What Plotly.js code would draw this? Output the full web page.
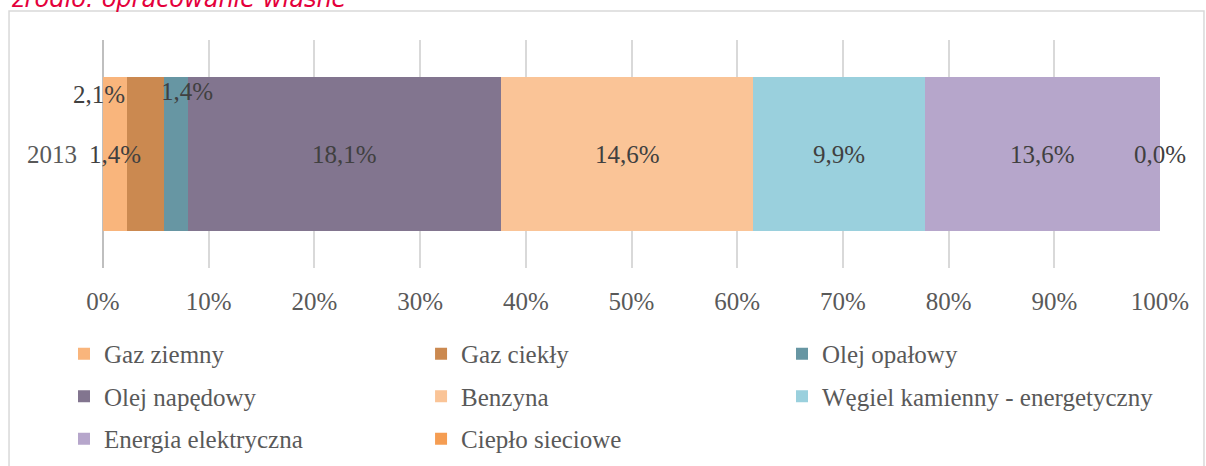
<!DOCTYPE html>
<html><head><meta charset="utf-8">
<script src="https://cdn.plot.ly/plotly-3.0.1.min.js"></script>
<style>html,body{margin:0;padding:0;background:#fff;}#chart{width:1206px;height:466px;}</style>
</head><body><div id="chart"></div>
<script>
const categories = ['2013'];
const seriesNames = ['Gaz ziemny', 'Gaz ciekły', 'Olej opałowy', 'Olej napędowy', 'Benzyna', 'Węgiel kamienny - energetyczny', 'Energia elektryczna', 'Ciepło sieciowe'];
const seriesValues = [1.4, 2.1, 1.4, 18.1, 14.6, 9.9, 13.6, 0.0];
const tickValues = [0, 10, 20, 30, 40, 50, 60, 70, 80, 90, 100];
const tickLabels = ['0%', '10%', '20%', '30%', '40%', '50%', '60%', '70%', '80%', '90%', '100%'];
const sourceText = 'źródło: opracowanie własne';

// styles
const colors = ['#F9B57C', '#CB8950', '#6796A3', '#82758F', '#FAC497', '#9AD0DD', '#B6A6CB', '#F59D52'];
const legendOf = ['legend', 'legend2', 'legend3', 'legend', 'legend2', 'legend3', 'legend', 'legend2'];
const labelShift = [[0, 0], [-46, 60], [11, 63], [0, 0], [0, 0], [0, 0], [0, 0], [0, 0]];

const serif = 'Liberation Serif, Times New Roman, serif';
const total = seriesValues.reduce((a, b) => a + b, 0);

const traces = seriesNames.map((name, i) => ({
  type: 'bar', orientation: 'h', name: name,
  y: categories, x: [seriesValues[i]],
  marker: { color: colors[i] },
  legend: legendOf[i], legendgroup: 'g' + i,
  hoverinfo: 'none'
}));

let cum = 0;
const labelAnns = seriesValues.map((v, i) => {
  const mid = (cum + v / 2) / total * 100;
  cum += v;
  return {
    x: mid, y: 0, xref: 'x', yref: 'y',
    text: v.toFixed(1).replace('.', ',') + '%',
    showarrow: false, xanchor: 'center', yanchor: 'middle',
    xshift: labelShift[i][0], yshift: labelShift[i][1],
    font: { family: serif, size: 25, color: '#404040' }
  };
});

const legendBase = {
  orientation: 'v', xref: 'paper', yref: 'paper', xanchor: 'left', yanchor: 'top', y: -0.2763,
  font: { family: serif, size: 25, color: '#595959' },
  traceorder: 'grouped', tracegroupgap: 7, bgcolor: 'rgba(0,0,0,0)', borderwidth: 0
};

const layout = {
  width: 1206, height: 466,
  margin: { l: 103, r: 46, t: 40, b: 198, autoexpand: false },
  paper_bgcolor: '#ffffff', plot_bgcolor: '#ffffff',
  barmode: 'stack', barnorm: 'percent', bargap: 0.325,
  showlegend: true,
  xaxis: {
    range: [0, 100], tickmode: 'array', tickvals: tickValues, ticktext: tickLabels,
    gridcolor: '#D9D9D9', gridwidth: 1.5,
    zeroline: true, zerolinecolor: '#BFBFBF', zerolinewidth: 1.5,
    ticks: '', ticklabelstandoff: 16, automargin: false,
    tickfont: { family: serif, size: 25, color: '#595959' }, fixedrange: true
  },
  yaxis: {
    type: 'category', ticks: '', ticksuffix: '\u2003', automargin: false,
    tickfont: { family: serif, size: 25, color: '#595959' }, fixedrange: true
  },
  legend: Object.assign({}, legendBase, { x: -0.0369 }),
  legend2: Object.assign({}, legendBase, { x: 0.3009 }),
  legend3: Object.assign({}, legendBase, { x: 0.6424 }),
  shapes: [{
    type: 'rect', xref: 'paper', yref: 'paper', x0: -0.0889, x1: 1.0416, y0: -1.3, y1: 1.127,
    line: { color: '#D9D9D9', width: 1.5 }, layer: 'below'
  }],
  annotations: labelAnns.concat([{
    xref: 'paper', yref: 'paper', x: -0.089, y: 1, xanchor: 'left', yanchor: 'bottom', yshift: 25,
    text: sourceText, showarrow: false,
    font: { family: 'DejaVu Sans, Verdana, sans-serif', size: 24, color: '#E4003B', style: 'italic' }
  }])
};

Plotly.newPlot('chart', traces, layout, { displayModeBar: false });
</script>
</body></html>
